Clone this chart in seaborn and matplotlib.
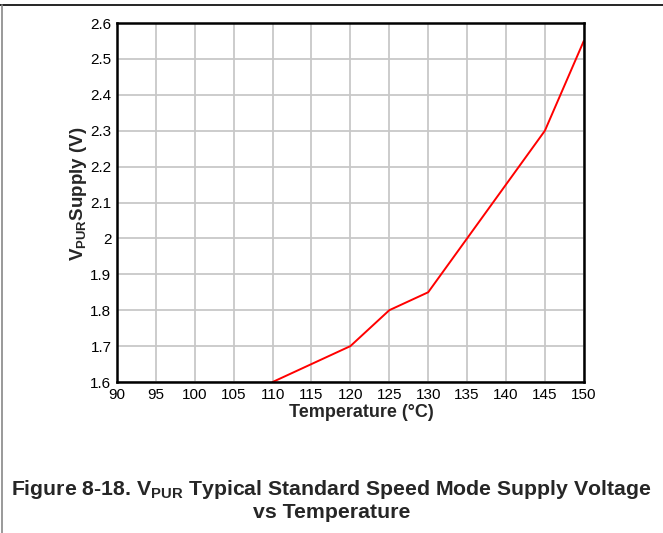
import matplotlib
matplotlib.use("Agg")
import matplotlib.pyplot as plt
from matplotlib.lines import Line2D
import seaborn as sns
import pandas as pd

temperature = [110, 115, 120, 125, 130, 135, 140, 145, 150]
supply_v = [1.60, 1.65, 1.70, 1.80, 1.85, 2.00, 2.15, 2.30, 2.55]
x_ticks = list(range(90, 151, 5))
y_ticks = [1.6, 1.7, 1.8, 1.9, 2.0, 2.1, 2.2, 2.3, 2.4, 2.5, 2.6]
y_labels = ["1.6", "1.7", "1.8", "1.9", "2", "2.1", "2.2", "2.3", "2.4", "2.5", "2.6"]

sns.set_style("white")
plt.rcParams['font.family'] = ['Liberation Sans', 'DejaVu Sans']
plt.rcParams['mathtext.fontset'] = 'custom'
plt.rcParams['mathtext.rm'] = 'Liberation Sans'
plt.rcParams['mathtext.bf'] = 'Liberation Sans:bold'

df = pd.DataFrame({"temp": temperature, "v": supply_v})

fig = plt.figure(figsize=(6.63, 5.33), dpi=100)
ax = fig.add_axes([0.1765, 0.2833, 0.704, 0.6735])
sns.lineplot(data=df, x="temp", y="v", color="#ff0000", linewidth=1.4, ax=ax)

ax.set_xlim(90, 150)
ax.set_ylim(1.6, 2.6)
ax.set_xticks(x_ticks)
ax.set_yticks(y_ticks)
ax.set_yticklabels(y_labels)
ax.tick_params(length=0, labelsize=11, pad=4, colors="black")
ax.grid(True, color="#c8c8c8", linewidth=1.3)
for s in ax.spines.values():
    s.set_color("black")
    s.set_linewidth(1.8)

ax.set_xlabel("Temperature (°C)", fontsize=13, fontweight="bold")
ax.set_ylabel(r"$\mathbf{V_{PUR}}$Supply (V)", fontsize=13.5, fontweight="bold")
ax.xaxis.set_label_coords(0.523, -0.062)
ax.yaxis.set_label_coords(-0.06, 0.525)

fig.text(0.5, 0.062, "Figure 8-18. V$_{\\mathbf{PUR}}$ Typical Standard Speed Mode Supply Voltage\nvs Temperature",
         ha="center", va="center", fontsize=15.3, fontweight="bold",
         family=['Liberation Sans Narrow', 'Liberation Sans'], linespacing=1.15)

fig.add_artist(Line2D([0, 1], [1 - 5 / 533, 1 - 5 / 533], color="black", linewidth=1.2, transform=fig.transFigure))
fig.add_artist(Line2D([1.5 / 663, 1.5 / 663], [0, 1 - 5 / 533], color="#888888", linewidth=1.2, transform=fig.transFigure))

fig.savefig("out.png", dpi=100)
